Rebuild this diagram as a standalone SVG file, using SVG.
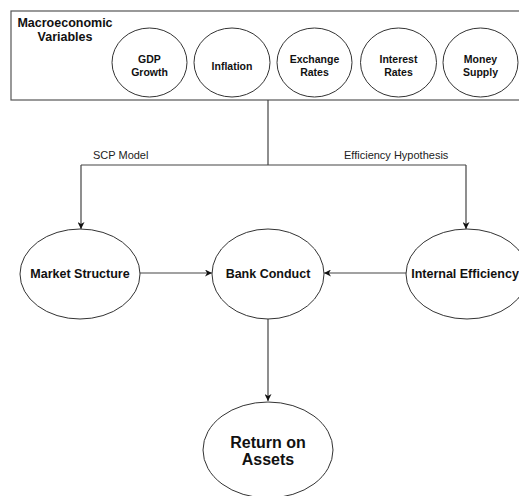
<svg xmlns="http://www.w3.org/2000/svg" width="519" height="496" viewBox="0 0 519 496">
<defs>
<marker id="arr" viewBox="0 0 10 10" refX="10" refY="5" markerWidth="7" markerHeight="7" markerUnits="userSpaceOnUse" orient="auto">
<path d="M0,0 L10,5 L0,10 L3,5 Z" fill="#111"/>
</marker>
</defs>
<style>
.node{fill:#fff;stroke:#333;stroke-width:1}
.box{fill:#fff;stroke:#555;stroke-width:1.2}
.t{font-family:"Liberation Sans",Arial,sans-serif;font-weight:bold;fill:#111;text-anchor:middle}
.s{font-size:10.5px}
.m{font-size:12.5px}
.l{font-size:16px}
.lab{font-family:"Liberation Sans",Arial,sans-serif;font-size:11px;fill:#222}
.c{fill:none;stroke:#444;stroke-width:1.2}
</style>
<rect width="519" height="496" fill="#fff"/>
<g id="macro">
<rect class="box" x="11" y="11" width="520" height="89"/>
<text class="t m" x="65" y="27">Macroeconomic</text>
<text class="t m" x="65" y="41">Variables</text>
</g>
<g id="gdp"><ellipse class="node" cx="149.5" cy="62.5" rx="37.5" ry="34.5"/><text class="t s" x="149.5" y="63">GDP</text><text class="t s" x="149.5" y="75.5">Growth</text></g>
<g id="inflation"><ellipse class="node" cx="232" cy="62.5" rx="38" ry="34.5"/><text class="t s" x="232" y="69.5">Inflation</text></g>
<g id="exchange"><ellipse class="node" cx="314.5" cy="62.5" rx="37.5" ry="34.5"/><text class="t s" x="314.5" y="63">Exchange</text><text class="t s" x="314.5" y="75.5">Rates</text></g>
<g id="interest"><ellipse class="node" cx="398.5" cy="62.5" rx="38" ry="34.5"/><text class="t s" x="398.5" y="63">Interest</text><text class="t s" x="398.5" y="75.5">Rates</text></g>
<g id="money"><ellipse class="node" cx="480.5" cy="62.5" rx="37.5" ry="34.5"/><text class="t s" x="480.5" y="63">Money</text><text class="t s" x="480.5" y="75.5">Supply</text></g>
<g id="connectors">
<path class="c" d="M268,100 V165 M81,165 H466"/>
<path class="c" d="M81,165 V229" marker-end="url(#arr)"/>
<path class="c" d="M466,165 V229" marker-end="url(#arr)"/>
<path class="c" d="M140,273 H212" marker-end="url(#arr)"/>
<path class="c" d="M406,273 H324" marker-end="url(#arr)"/>
<path class="c" d="M268,319 V401" marker-end="url(#arr)"/>
<text class="lab" x="93" y="159">SCP Model</text>
<text class="lab" x="344" y="159">Efficiency Hypothesis</text>
</g>
<g id="market"><ellipse class="node" cx="80" cy="274" rx="60" ry="45"/><text class="t m" x="80" y="278">Market Structure</text></g>
<g id="bank"><ellipse class="node" cx="268" cy="274" rx="56" ry="45"/><text class="t m" x="268" y="278">Bank Conduct</text></g>
<g id="internal"><ellipse class="node" cx="467" cy="274" rx="61" ry="45"/><text class="t m" x="465" y="278">Internal Efficiency</text></g>
<g id="roa"><ellipse class="node" cx="268" cy="450" rx="65" ry="48"/><text class="t l" x="268" y="448">Return on</text><text class="t l" x="268" y="465">Assets</text></g>
</svg>
